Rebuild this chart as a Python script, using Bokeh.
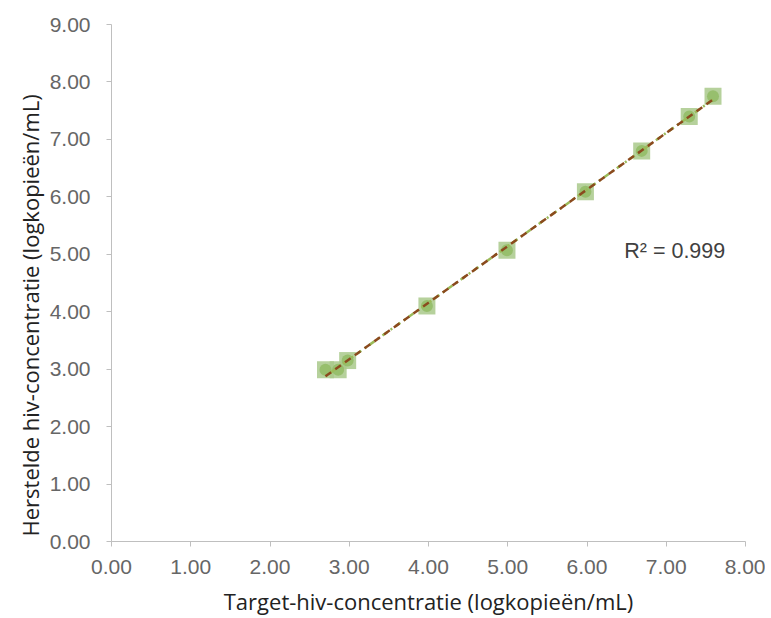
import numpy as np
from bokeh.plotting import figure
from bokeh.models import Range1d, FixedTicker, Label, Title
from bokeh.embed import file_html
from bokeh.resources import INLINE

# data
target = [2.70, 2.86, 2.98, 3.98, 4.99, 5.98, 6.69, 7.29, 7.59]
recovered = [2.99, 2.99, 3.15, 4.10, 5.07, 6.09, 6.80, 7.40, 7.75]
x_ticks = [0, 1, 2, 3, 4, 5, 6, 7, 8]
y_ticks = [0, 1, 2, 3, 4, 5, 6, 7, 8, 9]
r2_text = "R² = 0.999"
x_title = "Target-hiv-concentratie (logkopieën/mL)"
y_title = "Herstelde hiv-concentratie (logkopieën/mL)"

p = figure(width=765, height=618, output_backend="svg", toolbar_location=None,
           x_range=Range1d(0, 8), y_range=Range1d(0, 9),
           min_border_left=111, min_border_right=20, min_border_top=24, min_border_bottom=73)
p.outline_line_color = None
p.xgrid.grid_line_color = None
p.ygrid.grid_line_color = None

for ax in (p.xaxis[0], p.yaxis[0]):
    ax.axis_line_color = "#bfbfbf"
    ax.major_tick_line_color = "#bfbfbf"
    ax.minor_tick_line_color = None
    ax.major_tick_out = 5
    ax.major_tick_in = 0
    ax.major_label_text_font = "Liberation Sans"
    ax.major_label_text_font_size = "21px"
    ax.major_label_text_color = "#666666"
    ax.axis_label_text_font = "Open Sans"
    ax.axis_label_text_font_size = "22px"
    ax.axis_label_text_font_style = "normal"
    ax.axis_label_text_color = "#222222"

p.xaxis.ticker = FixedTicker(ticks=x_ticks)
p.yaxis.ticker = FixedTicker(ticks=y_ticks)
p.xaxis.major_label_overrides = {t: f"{t:.2f}" for t in x_ticks}
p.yaxis.major_label_overrides = {t: f"{t:.2f}" for t in y_ticks}
p.xaxis.major_label_standoff = 13
p.yaxis.major_label_standoff = 16
p.xaxis.axis_label = x_title
p.xaxis.axis_label_standoff = 9

# y title as a side title, anchored towards the bottom like the original
p.add_layout(Title(text=y_title, align="left", offset=5, text_font="Open Sans",
                   text_font_size="22px", text_font_style="normal",
                   text_color="#222222", standoff=4), "left")

# markers
p.scatter(target, recovered, marker="square", size=17, fill_color="#a9c98b",
          line_color=None, fill_alpha=0.85)
p.scatter(target, recovered, marker="circle", size=12, fill_color="#93bd68",
          line_color=None, fill_alpha=0.9)

# trendlines (least squares fit)
slope, icpt = np.polyfit(target, recovered, 1)
xs = [min(target), max(target)]
ys = [slope * x + icpt for x in xs]
p.line(xs, ys, line_color="#9bbb59", line_width=2.5, line_dash="2 4 6 4")
p.line(xs, ys, line_color="#8b4a1e", line_width=2.5, line_dash="7 5")

p.add_layout(Label(x=6.47, y=5.05, text=r2_text, text_font="Liberation Sans",
                   text_font_size="21.5px", text_color="#404040", text_baseline="middle"))

open("out.html", "w").write(file_html(p, INLINE))
